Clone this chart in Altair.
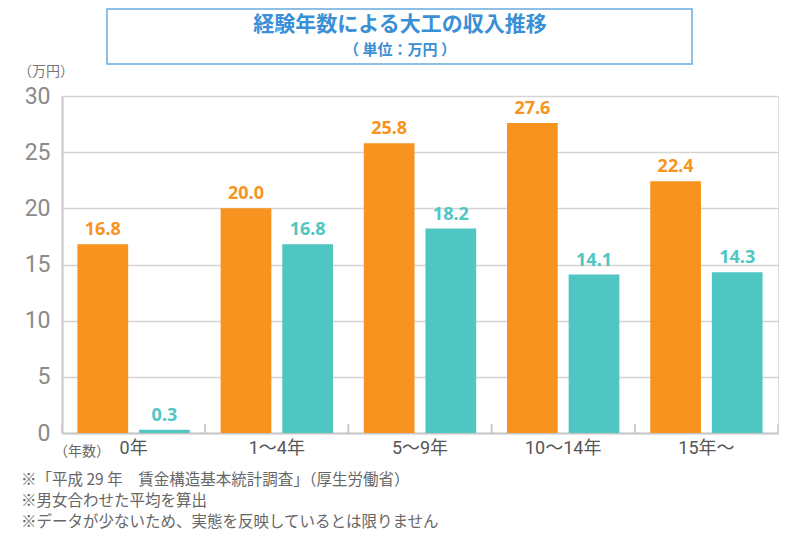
import altair as alt
import pandas as pd

categories = ["0年", "1～4年", "5～9年", "10～14年", "15年～"]
series_a = [16.8, 20.0, 25.8, 27.6, 22.4]
series_b = [0.3, 16.8, 18.2, 14.1, 14.3]
series_names = ["系列1", "系列2"]
colors = ["#F7931E", "#4FC6C1"]

title = "経験年数による大工の収入推移"
subtitle = "（ 単位：万円 ）"
y_unit = "（万円）"
x_unit = "（年数）"
notes = [
    "※「平成 29 年　賃金構造基本統計調査」（厚生労働省）",
    "※男女合わせた平均を算出",
    "※データが少ないため、実態を反映しているとは限りません",
]

rows = []
for c, a, b in zip(categories, series_a, series_b):
    rows.append({"cat": c, "series": series_names[0], "value": a})
    rows.append({"cat": c, "series": series_names[1], "value": b})
df = pd.DataFrame(rows)

W, H = 716, 337
NUM_FONT = "Liberation Sans Narrow, Roboto, Noto Sans CJK JP"
JP_FONT = "Noto Sans CJK JP"

xenc = alt.X("cat:N", sort=categories, title=None,
             scale=alt.Scale(paddingInner=0, paddingOuter=0),
             axis=alt.Axis(labelAngle=0, ticks=False, labelFont=NUM_FONT,
                           labelFontSize=18, labelColor="#555555", labelPadding=6,
                           domainColor="#c8c8c8", domainWidth=2, grid=False))
xoff = alt.XOffset("series:N", sort=series_names,
                   scale=alt.Scale(paddingInner=0.177, paddingOuter=0.25))
yenc = alt.Y("value:Q", title=None,
             scale=alt.Scale(domain=[0, 30], nice=False),
             axis=alt.Axis(values=[0, 5, 10, 15, 20, 25, 30], labelFont=NUM_FONT,
                           labelFontSize=23, labelColor="#8a8a8a", labelPadding=12,
                           ticks=False, domainColor="#c8c8c8", domainWidth=2,
                           gridColor="#d4d4d4", gridWidth=1.5))
cenc = alt.Color("series:N", sort=series_names,
                 scale=alt.Scale(domain=series_names, range=colors), legend=None)

base = alt.Chart(df)
bars = base.mark_bar().encode(x=xenc, xOffset=xoff, y=yenc, color=cenc)
labels = base.mark_text(dy=-14, fontSize=18, fontWeight="bold", font="Noto Sans").encode(
    x=alt.X("cat:N", sort=categories), xOffset=xoff, y="value:Q",
    text=alt.Text("value:Q", format=".1f"), color=cenc)

tick_df = pd.DataFrame({"cat": categories})
ticks0 = alt.Chart(tick_df).mark_rule(color="#c8c8c8", strokeWidth=1.5).encode(
    x=alt.X("cat:N", sort=categories, bandPosition=0),
    y=alt.value(H - 9), y2=alt.value(H))
ticks1 = alt.Chart(tick_df).mark_rule(color="#c8c8c8", strokeWidth=1.5).encode(
    x=alt.X("cat:N", sort=categories, bandPosition=1),
    y=alt.value(H - 9), y2=alt.value(H))

one = pd.DataFrame({"k": [0]})
box = alt.Chart(one).mark_rect(fill="white", stroke="#6aaae0", strokeWidth=1.5).encode(
    x=alt.value(45), x2=alt.value(630), y=alt.value(-87), y2=alt.value(-32))
t1 = alt.Chart(pd.DataFrame({"t": [title]})).mark_text(
    font=JP_FONT, fontSize=21, fontWeight="bold", color="#3a8fd6").encode(
    text="t:N", x=alt.value(338), y=alt.value(-71))
t2 = alt.Chart(pd.DataFrame({"t": [subtitle]})).mark_text(
    font=JP_FONT, fontSize=15, fontWeight="bold", color="#3a8fd6").encode(
    text="t:N", x=alt.value(338), y=alt.value(-46))
yu = alt.Chart(pd.DataFrame({"t": [y_unit]})).mark_text(
    font=JP_FONT, fontSize=14, color="#777777", align="left").encode(
    text="t:N", x=alt.value(-44), y=alt.value(-24))
xu = alt.Chart(pd.DataFrame({"t": [x_unit]})).mark_text(
    font=JP_FONT, fontSize=14, color="#666666", align="left").encode(
    text="t:N", x=alt.value(-8), y=alt.value(356))
foot = alt.Chart(pd.DataFrame({"t": [notes]})).mark_text(
    font=JP_FONT, fontSize=15.5, color="#666666", align="left", baseline="top",
    lineHeight=21).encode(
    text="t:N", x=alt.value(-41), y=alt.value(377))

chart = alt.layer(bars, labels, ticks0, ticks1, box, t1, t2, yu, xu, foot).properties(
    width=W, height=H,
    autosize=alt.AutoSizeParams(type="none"),
    padding={"left": 54, "top": 88, "right": 14, "bottom": 100},
).configure_view(stroke=None).configure(background="white")

chart.save("out.html", embed_options={"renderer": "svg", "actions": False})
